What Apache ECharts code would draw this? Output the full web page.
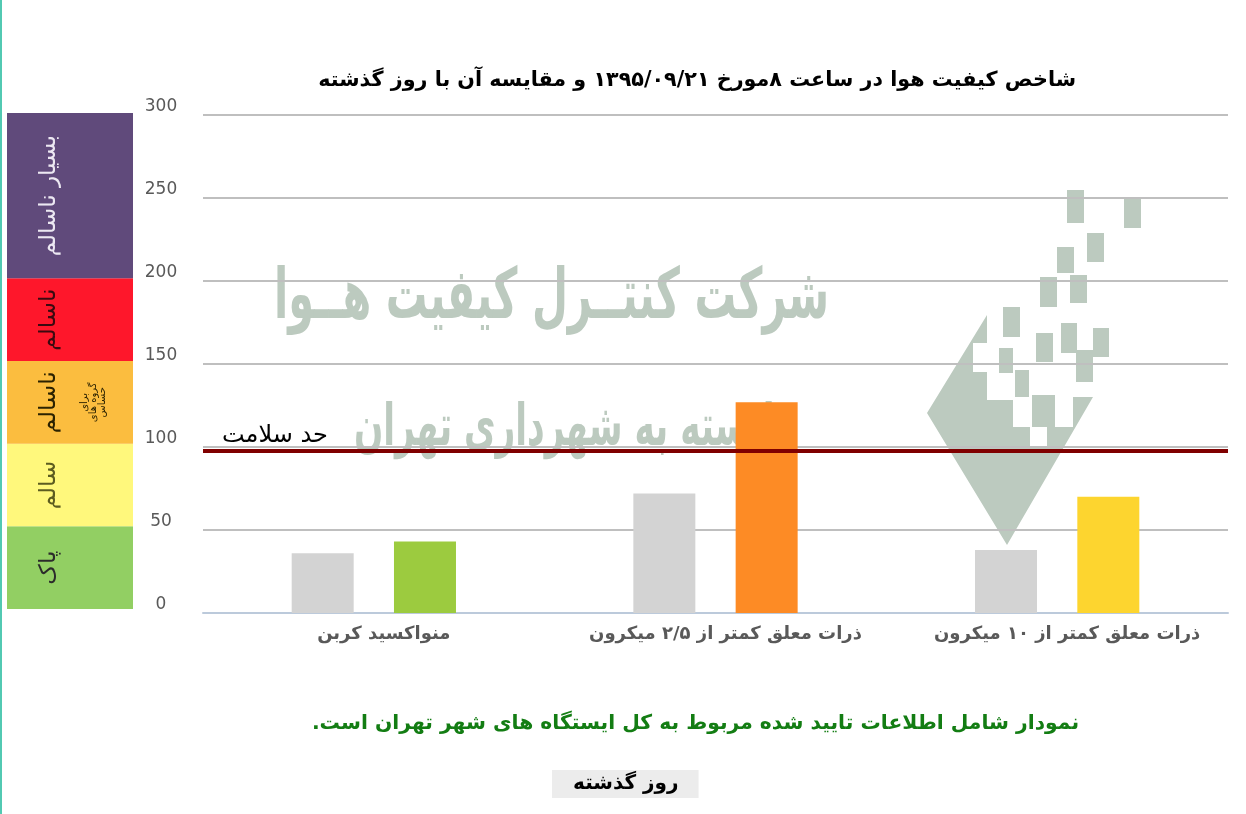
<!DOCTYPE html>
<html>
<head>
<meta charset="utf-8">
<script src="https://cdn.jsdelivr.net/npm/echarts@6/dist/echarts.min.js"></script>
<style>
  html, body { margin: 0; padding: 0; background: #fff; }
  #chart { width: 1246px; height: 814px; }
</style>
</head>
<body>
<div id="chart"></div>
<script>
(function() {
  var FONT = 'DejaVu Sans';

  // data
  var categories = ['منواکسید کربن', 'ذرات معلق کمتر از ۲/۵ میکرون', 'ذرات معلق کمتر از ۱۰ میکرون'];
  var yesterday = [36, 72, 38];
  var today = [43, 127, 70];
  var healthLimit = 98;
  var yTicks = [0, 50, 100, 150, 200, 250, 300];

  // AQI bands on the left, bottom to top
  var bandNames = ['پاک', 'سالم', 'ناسالم', 'ناسالم', 'بسیار ناسالم'];
  var bandSizes = [50, 50, 50, 50, 100];

  var todayColors = ['#9ccb3f', '#fd8b25', '#fdd52f'];
  var bandColors = ['#92cf63', '#fff87c', '#fbbd3f', '#fe172b', '#604a7b'];
  var bandTextColors = ['#2b2b2b', '#5c5c20', '#2b2200', '#3a0a10', '#ece8f2'];

  var chart = echarts.init(document.getElementById('chart'));

  // squeeze a text horizontally so it fits a given width
  var ctx = document.createElement('canvas').getContext('2d');
  function fitScale(text, font, width) {
    ctx.font = font;
    return width / ctx.measureText(text).width;
  }

  var bandSeries = bandNames.map(function(name, i) {
    var label = {
      show: true,
      position: [42, '50%'],
      rotate: 90,
      align: 'center',
      verticalAlign: 'middle',
      color: bandTextColors[i],
      fontFamily: FONT,
      fontSize: 23,
      formatter: name
    };
    if (i === 2) {
      label.position = [56, '50%'];
      label.formatter = '{a|' + name + '}\n{b|برای}\n{b|گروه های}\n{b|حساس}';
      label.rich = {
        a: { fontSize: 23, lineHeight: 60, color: bandTextColors[i], fontFamily: FONT },
        b: { fontSize: 10, lineHeight: 9, color: bandTextColors[i], fontFamily: FONT }
      };
    }
    return {
      name: 'band' + i,
      type: 'bar',
      xAxisIndex: 1,
      yAxisIndex: 1,
      stack: 'band',
      barWidth: '100%',
      silent: true,
      itemStyle: { color: bandColors[i] },
      label: label,
      data: [bandSizes[i]]
    };
  });

  // watermark logo
  var logoSquares = [
    [1067, 190, 17, 33], [1124, 198, 17, 30], [1087, 233, 17, 29], [1057, 247, 17, 26],
    [1040, 277, 17, 30], [1070, 275, 17, 28], [1003, 307, 17, 30], [1036, 333, 17, 29],
    [1061, 323, 16, 30], [1093, 328, 16, 29], [1076, 350, 17, 32], [999, 348, 14, 25],
    [1015, 370, 14, 27], [1032, 395, 23, 32]
  ];
  var wmColor = '#bccabf';
  var wm1 = 'شرکت کنتــرل کیفیت هــوا';
  var wm2 = 'وابسته به شهرداری تهران';
  var wmFont1 = 'bold 70px "DejaVu Sans"';
  var wmFont2 = 'bold 58px "DejaVu Sans"';
  var graphics = logoSquares.map(function(s) {
    return { type: 'rect', z: -5, shape: { x: s[0], y: s[1], width: s[2], height: s[3] }, style: { fill: wmColor } };
  });
  graphics.push({
    type: 'polygon', z: -5,
    shape: { points: [[987, 315], [987, 343], [973, 343], [973, 372], [987, 372], [987, 400], [1013, 400], [1013, 427],
      [1030, 427], [1030, 447], [1047, 447], [1047, 427], [1057, 427], [1073, 427], [1073, 397], [1093, 397],
      [1007, 545], [927, 413]] },
    style: { fill: wmColor }
  });
  graphics.push({ type: 'text', z: -5, x: 829, y: 300, scaleX: fitScale(wm1, wmFont1, 555),
    style: { text: wm1, fill: wmColor, font: wmFont1, textAlign: 'right', textVerticalAlign: 'middle' } });
  graphics.push({ type: 'text', z: -5, x: 796, y: 430, scaleX: fitScale(wm2, wmFont2, 442),
    style: { text: wm2, fill: wmColor, font: wmFont2, textAlign: 'right', textVerticalAlign: 'middle' } });
  graphics.push({ type: 'rect', z: 10, shape: { x: 0, y: 0, width: 2, height: 814 }, style: { fill: '#52c9b2' } });

  var option = {
    animation: false,
    title: [{
      text: 'شاخص کیفیت هوا در ساعت ۸مورخ ۱۳۹۵/۰۹/۲۱ و مقایسه آن با روز گذشته',
      right: 165,
      top: 65,
      textStyle: { fontFamily: FONT, fontSize: 20.7, fontWeight: 'bold', color: '#000' }
    }, {
      text: 'نمودار شامل اطلاعات تایید شده مربوط به کل ایستگاه های شهر تهران است.\u200F',
      right: 162,
      top: 709,
      textStyle: { fontFamily: FONT, fontSize: 20.3, fontWeight: 'bold', color: '#137d13' }
    }],
    legend: {
      data: ['روز گذشته'],
      left: 552,
      top: 770,
      itemWidth: 0,
      itemHeight: 0,
      backgroundColor: '#ececec',
      padding: [4, 20, 4, 16],
      selectedMode: false,
      textStyle: { fontFamily: FONT, fontSize: 20, fontWeight: 'bold', color: '#000' }
    },
    graphic: graphics,
    grid: [
      { left: 203, right: 18, top: 115, bottom: 201 },
      { left: 7, width: 126, top: 113, bottom: 205 }
    ],
    xAxis: [{
      type: 'category',
      data: categories,
      axisLine: { lineStyle: { color: '#bccadb', width: 2 } },
      axisTick: { length: 10, lineStyle: { color: '#bccadb', width: 2 } },
      axisLabel: { interval: 0, color: '#595959', fontFamily: FONT, fontSize: 18, fontWeight: 'bold', margin: 12, padding: [0, 0, 0, 20] }
    }, {
      type: 'category',
      gridIndex: 1,
      data: ['band'],
      show: false
    }],
    yAxis: [{
      type: 'value',
      min: yTicks[0],
      max: yTicks[yTicks.length - 1],
      interval: yTicks[1] - yTicks[0],
      axisLine: { show: false },
      axisTick: { show: false },
      splitLine: { lineStyle: { color: '#bfbfbf', width: 2 } },
      axisLabel: { color: '#595959', fontFamily: FONT, fontSize: 17, align: 'center', margin: 42, verticalAlign: 'bottom' }
    }, {
      type: 'value',
      gridIndex: 1,
      min: yTicks[0],
      max: yTicks[yTicks.length - 1],
      show: false
    }],
    series: [{
      name: 'روز گذشته',
      type: 'bar',
      barWidth: 62,
      barGap: '65%',
      itemStyle: { color: '#d3d3d3' },
      data: yesterday
    }, {
      name: 'امروز',
      type: 'bar',
      barWidth: 62,
      barGap: '65%',
      data: today.map(function(v, i) {
        return { value: v, itemStyle: { color: todayColors[i] } };
      }),
      markLine: {
        silent: true,
        symbol: 'none',
        lineStyle: { color: '#800000', width: 4, type: 'solid' },
        label: {
          position: 'insideStartTop',
          formatter: 'حد سلامت',
          color: '#000',
          fontFamily: FONT,
          fontSize: 24,
          distance: [19, 3]
        },
        data: [{ yAxis: healthLimit }]
      }
    }].concat(bandSeries)
  };

  chart.setOption(option);
})();
</script>
</body>
</html>
